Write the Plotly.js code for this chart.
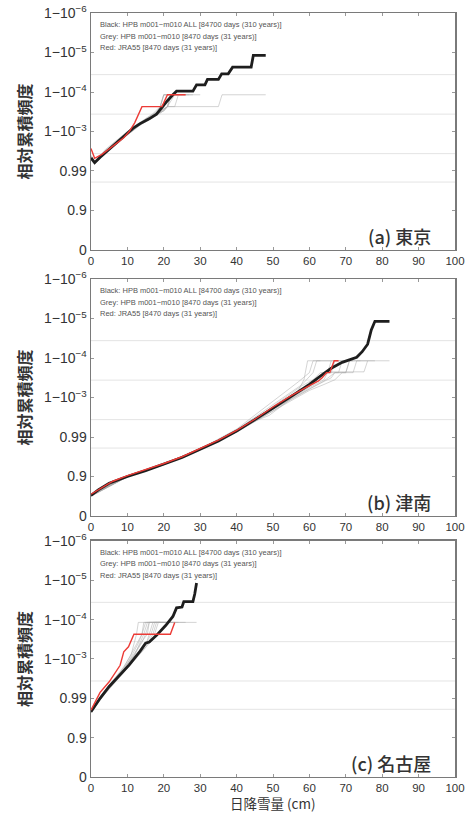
<!DOCTYPE html>
<html><head><meta charset="utf-8">
<script src="https://cdn.plot.ly/plotly-3.0.1.min.js"></script>
<style>html,body{margin:0;padding:0;background:#fff}#chart{width:472px;height:814px}</style>
</head><body><div id="chart"></div>
<script>
// ---------- axis labels ----------
const yTickVals = [0, 1, 2, 3, 4, 5, 6];
const yTickText = ['0', '0.9', '0.99', '1−10<sup>−3</sup>', '1−10<sup>−4</sup>', '1−10<sup>−5</sup>', '1−10<sup>−6</sup>'];
const refLevels = [1.72, 2.44, 3.44, 4.44];
const legendLines = [
  'Black: HPB m001−m010 ALL [84700 days (310 years)]',
  'Grey: HPB m001−m010 [8470 days (31 years)]',
  'Red: JRA55 [8470 days (31 years)]'
];
const panelLabels = ['(a) 東京', '(b) 津南', '(c) 名古屋'];
const yTitle = '相対累積頻度';
const xTitle = '日降雪量 (cm)';

// ---------- (a) Tokyo ----------
const tokyoBlackX = [0,1,2.5,5,7,9,11.5,13.5,16,18,19.5,21,22.5,23.5,28,29,31.3,32,35,35.9,37.7,38.9,44,44.6,48];
const tokyoBlackY = [2.33,2.21,2.35,2.55,2.72,2.86,3.08,3.2,3.32,3.44,3.62,3.78,3.93,4.02,4.02,4.18,4.18,4.32,4.32,4.46,4.46,4.63,4.63,4.93,4.93];
const tokyoRedX = [0,1,3,5,7,9,10.5,12,14,19.5,21,26];
const tokyoRedY = [2.57,2.32,2.42,2.55,2.7,2.84,3.0,3.22,3.63,3.63,3.93,3.93];
const tokyoGreyX = [
  [0,1,3,6,9,12,15,18,20,21,35,36,48],
  [0,1,4,7,10,13,16,18,19,20,24],
  [0,1,3,6,9,12,15,18,20,21,22,23],
  [0,1,4,7,10,13,16,19,20,22,25],
  [0,1,3,6,9,12,15,18,21,22,27],
  [0,1,4,7,10,13,16,18,19,20,26],
  [0,1,3,6,9,12,14,17,20,21,23,24,30],
  [0,1,4,7,10,13,15,17,19,20,22],
  [0,1,3,6,9,12,15,17,19,21,23,28],
  [0,1,4,7,10,13,16,19,21,22,24]
];
const tokyoGreyY = [
  [2.3,2.24,2.4,2.66,2.9,3.1,3.28,3.42,3.55,3.63,3.63,3.93,3.93],
  [2.36,2.2,2.5,2.74,2.96,3.18,3.36,3.5,3.63,3.93,3.93],
  [2.28,2.18,2.35,2.6,2.85,3.05,3.3,3.45,3.52,3.63,3.93,3.93],
  [2.4,2.25,2.55,2.78,3.0,3.2,3.34,3.5,3.63,3.93,3.93],
  [2.32,2.2,2.38,2.62,2.9,3.12,3.32,3.47,3.63,3.93,3.93],
  [2.35,2.22,2.47,2.72,2.94,3.14,3.3,3.45,3.63,3.93,3.93],
  [2.3,2.19,2.36,2.63,2.87,3.06,3.22,3.4,3.52,3.63,3.63,3.93,3.93],
  [2.38,2.24,2.52,2.76,2.98,3.2,3.33,3.45,3.63,3.93,3.93],
  [2.31,2.21,2.37,2.62,2.88,3.08,3.27,3.4,3.52,3.63,3.93,3.93],
  [2.34,2.2,2.48,2.7,2.92,3.13,3.3,3.46,3.63,3.93,3.93]
];

// ---------- (b) Tsunan ----------
const tsunanBlackX = [0,2,5,10,15,20,25,30,35,40,45,50,55,60,63,66,69,71,73,74.5,76,77,78,82];
const tsunanBlackY = [0.52,0.66,0.83,1.0,1.15,1.31,1.48,1.69,1.9,2.15,2.43,2.73,3.03,3.33,3.54,3.74,3.89,3.95,4.02,4.16,4.35,4.71,4.93,4.93];
const tsunanRedX = [0,3,6,10,15,20,25,30,35,40,45,50,55,60,62.5,63.5,64.7,65.6,66.8,68];
const tsunanRedY = [0.55,0.72,0.88,1.02,1.17,1.33,1.5,1.7,1.92,2.17,2.45,2.76,3.05,3.3,3.42,3.5,3.63,3.63,3.93,3.93];
const tsunanGreyX = [
  [0,10,20,30,40,45,49,53,56.5,58.5,59.5,70],
  [0,10,20,30,40,45,50,55,60,63,65,66,75,76,82],
  [0,10,20,30,40,45,50,55,58,61,62,66],
  [0,10,20,30,40,45,50,55,60,64,65,66,68],
  [0,10,20,30,40,45,50,55,60,64,67,70,71,74],
  [0,10,20,30,40,45,50,55,60,64,67,69,72,73,78],
  [0,10,20,30,40,45,50,54,57,60,61,63],
  [0,10,20,30,40,45,50,55,60,63,65,68,69,72],
  [0,10,20,30,40,45,50,54,58,61,63,66,67,69],
  [0,10,20,30,40,45,50,55,60,63,66,67,70,71,76]
];
const tsunanGreyY = [
  [0.5,1.0,1.3,1.68,2.17,2.4,2.55,2.83,3.1,3.45,3.93,3.93],
  [0.52,1.02,1.31,1.7,2.14,2.42,2.72,3.0,3.28,3.45,3.63,3.65,3.65,3.93,3.93],
  [0.51,0.99,1.3,1.68,2.18,2.5,2.82,3.12,3.33,3.63,3.93,3.93],
  [0.53,1.01,1.32,1.7,2.13,2.4,2.7,2.98,3.25,3.45,3.63,3.93,3.93],
  [0.52,1.0,1.31,1.69,2.12,2.38,2.66,2.95,3.22,3.42,3.63,3.63,3.93,3.93],
  [0.5,0.99,1.3,1.67,2.14,2.4,2.68,2.93,3.18,3.33,3.45,3.63,3.63,3.93,3.93],
  [0.52,1.01,1.32,1.7,2.2,2.55,2.9,3.2,3.4,3.63,3.93,3.93],
  [0.51,1.0,1.31,1.69,2.15,2.42,2.72,3.0,3.27,3.45,3.63,3.63,3.93,3.93],
  [0.53,1.02,1.32,1.7,2.16,2.45,2.78,3.05,3.3,3.45,3.63,3.63,3.93,3.93],
  [0.52,1.0,1.3,1.68,2.13,2.4,2.7,2.97,3.22,3.36,3.5,3.63,3.63,3.93,3.93]
];

// ---------- (c) Nagoya ----------
const nagoyaBlackX = [0,2.5,5,8,10.5,13.5,15,16,18,20.5,22.5,23.5,25,25.5,28,28.5,29];
const nagoyaBlackY = [1.66,2.0,2.3,2.6,2.85,3.2,3.4,3.43,3.6,3.85,4.08,4.3,4.32,4.46,4.46,4.65,4.93];
const nagoyaRedX = [0,2.5,5,8,9,10.3,11.8,21.8,23];
const nagoyaRedY = [1.7,2.15,2.42,2.84,3.18,3.31,3.63,3.63,3.93];
const nagoyaGreyX = [
  [0,3,6,9,11,12.5,13,29],
  [0,3,6,9,11,13,14,15,20],
  [0,3,6,9,12,14,15,16,22],
  [0,3,6,9,12,15,16,17,19],
  [0,3,6,9,12,14,15.5,16,24],
  [0,3,6,9,12,15,17,18,21],
  [0,3,6,9,11,13,14,14.5,18],
  [0,3,6,9,12,15,16.5,17.5,26],
  [0,3,6,9,12,13.5,14.5,15.5,19],
  [0,3,6,9,12,15,17,18.5,23]
];
const nagoyaGreyY = [
  [1.64,2.1,2.45,2.8,3.1,3.63,3.93,3.93],
  [1.66,2.05,2.4,2.72,3.05,3.4,3.63,3.93,3.93],
  [1.65,2.08,2.38,2.7,3.12,3.42,3.63,3.93,3.93],
  [1.63,2.03,2.35,2.66,3.02,3.35,3.63,3.93,3.93],
  [1.67,2.1,2.42,2.76,3.15,3.45,3.63,3.93,3.93],
  [1.64,2.04,2.36,2.68,3.0,3.3,3.63,3.93,3.93],
  [1.66,2.07,2.43,2.78,3.12,3.45,3.63,3.93,3.93],
  [1.65,2.05,2.37,2.7,3.05,3.38,3.63,3.93,3.93],
  [1.68,2.09,2.41,2.74,3.1,3.4,3.63,3.93,3.93],
  [1.63,2.02,2.34,2.65,2.98,3.28,3.5,3.93,3.93]
];

// ---------- build ----------
const panels = [
  {bx: tokyoBlackX, by: tokyoBlackY, rx: tokyoRedX, ry: tokyoRedY, gx: tokyoGreyX, gy: tokyoGreyY, dom: [0.6929, 0.9840]},
  {bx: tsunanBlackX, by: tsunanBlackY, rx: tsunanRedX, ry: tsunanRedY, gx: tsunanGreyX, gy: tsunanGreyY, dom: [0.3661, 0.6572]},
  {bx: nagoyaBlackX, by: nagoyaBlackY, rx: nagoyaRedX, ry: nagoyaRedY, gx: nagoyaGreyX, gy: nagoyaGreyY, dom: [0.0455, 0.3354]}
];

const FONT = 'Liberation Sans, Arial, Helvetica, sans-serif';
const CJK = 'Noto Sans CJK JP, Noto Sans, sans-serif';
const traces = [];
const layout = {
  width: 472, height: 814,
  margin: {l: 91, r: 17, t: 0, b: 0},
  paper_bgcolor: '#fff', plot_bgcolor: '#fff',
  showlegend: false,
  shapes: [], annotations: []
};

panels.forEach((p, i) => {
  const n = i === 0 ? '' : String(i + 1);
  const xa = 'x' + n, ya = 'y' + n;
  p.gx.forEach((gx, k) => {
    traces.push({x: gx, y: p.gy[k], xaxis: xa, yaxis: ya, mode: 'lines', type: 'scatter',
      line: {color: 'rgba(170,170,170,0.5)', width: 1}, hoverinfo: 'skip'});
  });
  traces.push({x: p.bx, y: p.by, xaxis: xa, yaxis: ya, mode: 'lines', type: 'scatter',
    line: {color: '#1e1e1e', width: 2.8}});
  traces.push({x: p.rx, y: p.ry, xaxis: xa, yaxis: ya, mode: 'lines', type: 'scatter',
    line: {color: '#ec3b36', width: 1.4}});

  layout['xaxis' + n] = {
    anchor: ya, domain: [0, 1], range: [0, 100], dtick: 10, tick0: 0,
    showgrid: false, zeroline: false,
    showline: true, linecolor: '#7a7a7a', linewidth: 1.5, mirror: 'ticks',
    ticks: 'inside', ticklen: 3, tickcolor: '#999', tickwidth: 1,
    tickfont: {family: FONT, size: 11.5, color: '#333'}
  };
  layout['yaxis' + n] = {
    anchor: xa, domain: p.dom, range: [0, 6],
    tickmode: 'array', tickvals: yTickVals, ticktext: yTickText,
    showgrid: false, zeroline: false,
    showline: true, linecolor: '#7a7a7a', linewidth: 1.5, mirror: 'ticks',
    ticks: 'inside', ticklen: 3, tickcolor: '#999', tickwidth: 1,
    tickfont: {family: FONT, size: 14, color: '#333'},
    title: {text: yTitle, font: {family: CJK, size: 16, color: '#333', weight: 'bold'}, standoff: 8}
  };
  refLevels.forEach(lv => {
    layout.shapes.push({type: 'line', xref: xa + ' domain', x0: 0, x1: 1, yref: ya, y0: lv, y1: lv,
      line: {color: '#e4e4e4', width: 1}, layer: 'below'});
  });
  legendLines.forEach((t, k) => {
    layout.annotations.push({text: t, xref: xa + ' domain', yref: ya + ' domain',
      x: 0.019, y: 0.952 - k * 0.049, xanchor: 'left', yanchor: 'middle', showarrow: false,
      font: {family: FONT, size: 7.5, color: '#555'}});
  });
  layout.annotations.push({text: panelLabels[i], xref: xa + ' domain', yref: ya + ' domain',
    x: 0.94, y: 0.058, xanchor: 'right', yanchor: 'middle', showarrow: false,
    font: {family: CJK, size: 18, color: '#333', weight: 500}});
});

// x-axis title of the bottom panel, at the page's lower edge as in the reference
layout.annotations.push({text: xTitle, xref: 'x3 domain', yref: 'paper', x: 0.5, y: 0,
  xanchor: 'center', yanchor: 'bottom', showarrow: false, borderpad: 0,
  font: {family: CJK, size: 13.5, color: '#333'}});

Plotly.newPlot('chart', traces, layout, {displayModeBar: false, staticPlot: true});
</script>
</body></html>
